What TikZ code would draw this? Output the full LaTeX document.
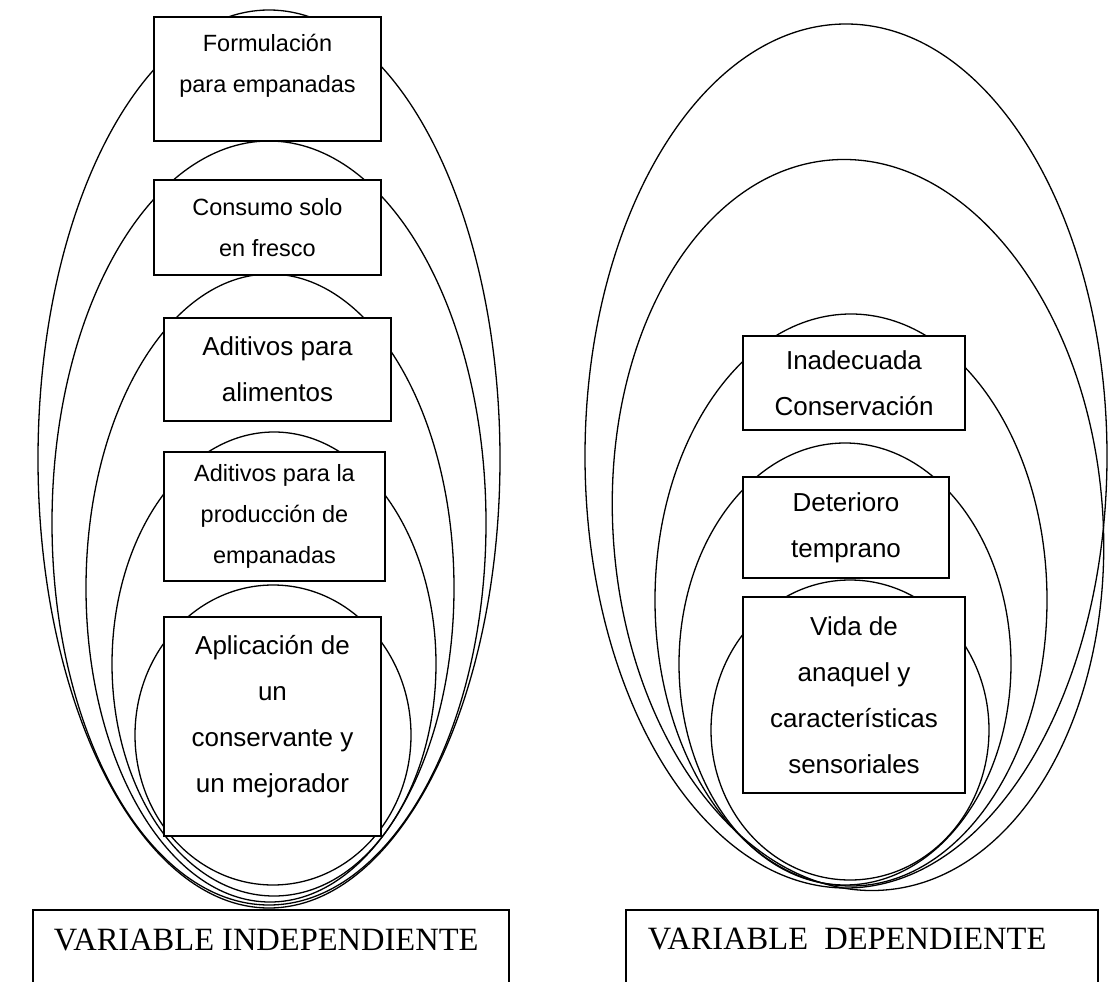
\documentclass[tikz,border=0pt]{standalone}
\usepackage{fontspec}
\setmainfont{Liberation Sans}
\newfontfamily\romanfont{Liberation Serif}
\usetikzlibrary{positioning}

\begin{document}
\begin{tikzpicture}[x=1pt, y=-1pt, line width=1.3pt,
    caja/.style={draw, fill=white, line width=1.6pt, inner sep=0pt, align=center},
    chica/.style={font=\fontsize{23.5}{41}\selectfont},
    grande/.style={font=\fontsize{26}{46}\selectfont},
    titulo/.style={font=\romanfont\fontsize{32.5}{38}\selectfont, anchor=base west}]
\useasboundingbox (0,0) rectangle (1109,982);

% variable independiente
\foreach \cx/\cy/\rx/\ry in {269/459/231/449, 269/523/217/382, 270/588/184/314,
    274/664/162/232, 273/735/138/150}
    \draw (\cx,\cy) ellipse [x radius=\rx, y radius=\ry];

\node[caja, chica, minimum width=227, minimum height=124] (form) at (267.5,79)
    {Formulación\\para empanadas\\[-10pt]\mbox{}};
\node[caja, chica, minimum width=227, minimum height=95] (consumo) at (267.5,227.5)
    {Consumo solo\\en fresco};
\node[caja, grande, minimum width=227, minimum height=103] (aditivos) at (277.5,369.5)
    {Aditivos para\\alimentos};
\node[caja, chica, minimum width=221, minimum height=129] (produccion) at (274.5,516.5)
    {Aditivos para la\\producción de\\empanadas};
\node[caja, grande, minimum width=217, minimum height=219] (aplicacion) at (272.5,726.5)
    {Aplicación de\\un\\conservante y\\un mejorador\\[-21pt]\mbox{}};

% variable dependiente
\foreach \cx/\cy/\rx/\ry in {846/456/261/432, 851/600/196/286,
    845/664/166/221, 850/730/139/150}
    \draw (\cx,\cy) ellipse [x radius=\rx, y radius=\ry];
\draw[rotate around={4:(858,525)}] (858,525) ellipse [x radius=245, y radius=366];

\node[caja, grande, minimum width=222, minimum height=94] (inadecuada) at (854,383)
    {Inadecuada\\Conservación};
\node[caja, grande, minimum width=206, minimum height=101] (deterioro) at (846,527.5)
    {Deterioro\\temprano};
\node[caja, grande, minimum width=222, minimum height=196] (vida) at (854,695)
    {Vida de\\anaquel y\\características\\sensoriales};

% rotulos inferiores
\node[titulo] (indep) at (50,950) {VARIABLE INDEPENDIENTE};
\node[titulo] (dep) at (644,949) {VARIABLE\ \ DEPENDIENTE};
\draw (33,982) -- (33,910) -- (509,910) -- (509,982);
\draw (626,982) -- (626,910) -- (1098,910) -- (1098,982);
\end{tikzpicture}
\end{document}
